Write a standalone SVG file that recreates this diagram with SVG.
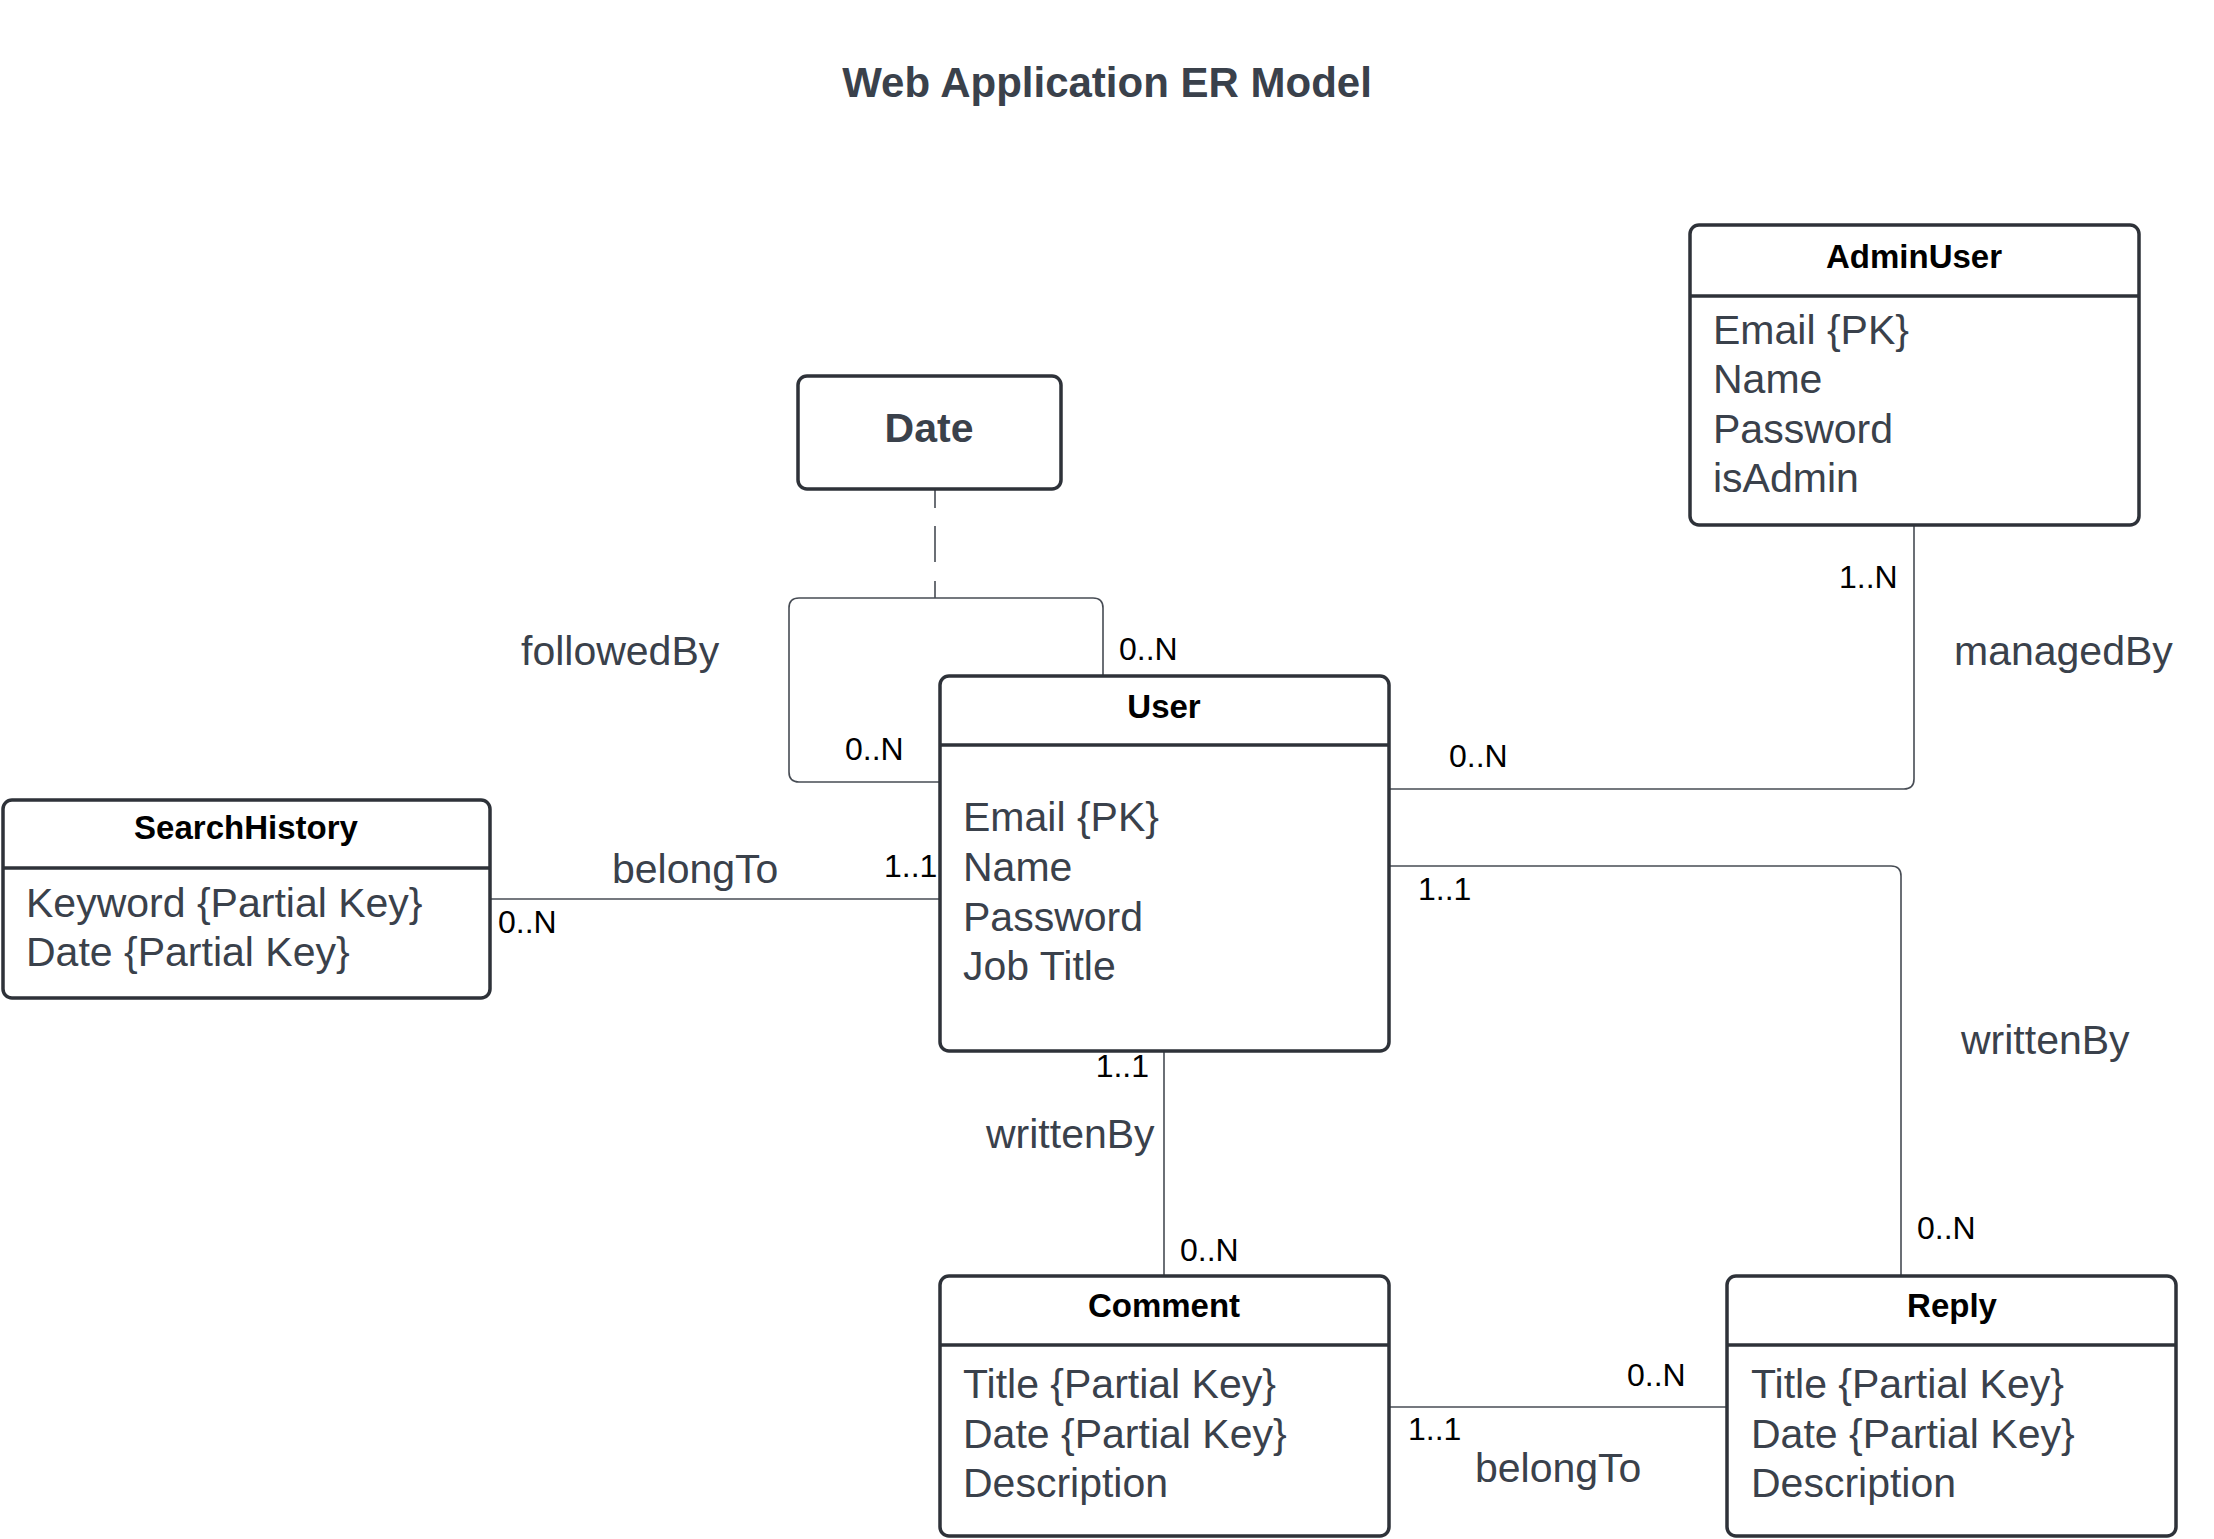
<svg xmlns="http://www.w3.org/2000/svg" width="2214" height="1539" viewBox="0 0 2214 1539">
<style>
text{font-family:"Liberation Sans",Arial,sans-serif}
.box{fill:#ffffff;stroke:#2e3239;stroke-width:3.5}
.div{stroke:#2e3239;stroke-width:3.5}
.ename{font-size:33px;font-weight:bold;fill:#000000;text-anchor:middle}
.attr{font-size:41px;fill:#3a414b}
.rel{font-size:41px;fill:#3a414b}
.card{font-size:32px;fill:#000000}
.conn{fill:none;stroke:#474c54;stroke-width:1.6}
</style>
<rect x="0" y="0" width="2214" height="1539" fill="#ffffff"/>
<text x="1107" y="97" text-anchor="middle" font-size="42" font-weight="bold" fill="#3a414b">Web Application ER Model</text>

<g id="connectors">
<path class="conn" d="M935,489 V598" stroke-dasharray="19 18 36 19 17 100"/>
<path class="conn" d="M940,782 H799 Q789,782 789,772 V608 Q789,598 799,598 H1093 Q1103,598 1103,608 V676"/>
<path class="conn" d="M1914,525 V779 Q1914,789 1904,789 H1389"/>
<path class="conn" d="M490,899 H940"/>
<path class="conn" d="M1164,1051 V1276"/>
<path class="conn" d="M1389,866 H1891 Q1901,866 1901,876 V1276"/>
<path class="conn" d="M1389,1407 H1727"/>
<text class="rel" x="521" y="665">followedBy</text>
<text class="rel" x="1954" y="665">managedBy</text>
<text class="rel" x="612" y="883">belongTo</text>
<text class="rel" x="986" y="1148">writtenBy</text>
<text class="rel" x="1961" y="1054">writtenBy</text>
<text class="rel" x="1475" y="1482">belongTo</text>
<text class="card" x="1119" y="660">0..N</text>
<text class="card" x="845" y="760">0..N</text>
<text class="card" x="1839" y="588">1..N</text>
<text class="card" x="1449" y="767">0..N</text>
<text class="card" x="884" y="877">1..1</text>
<text class="card" x="498" y="933">0..N</text>
<text class="card" x="1418" y="900">1..1</text>
<text class="card" x="1149" y="1077" text-anchor="end">1..1</text>
<text class="card" x="1180" y="1261">0..N</text>
<text class="card" x="1917" y="1239">0..N</text>
<text class="card" x="1627" y="1386">0..N</text>
<text class="card" x="1408" y="1440">1..1</text>
</g>

<g id="date">
<rect class="box" x="798" y="376" width="263" height="113" rx="9"/>
<text x="929" y="442" text-anchor="middle" font-size="41" font-weight="bold" fill="#3a414b">Date</text>
</g>

<g id="adminuser">
<rect class="box" x="1690" y="225" width="449" height="300" rx="9"/>
<line class="div" x1="1690" y1="296" x2="2139" y2="296"/>
<text class="ename" x="1914" y="268">AdminUser</text>
<text class="attr" x="1713" y="344">Email {PK}</text>
<text class="attr" x="1713" y="393">Name</text>
<text class="attr" x="1713" y="443">Password</text>
<text class="attr" x="1713" y="492">isAdmin</text>
</g>

<g id="user">
<rect class="box" x="940" y="676" width="449" height="375" rx="9"/>
<line class="div" x1="940" y1="745" x2="1389" y2="745"/>
<text class="ename" x="1164" y="718">User</text>
<text class="attr" x="963" y="831">Email {PK}</text>
<text class="attr" x="963" y="881">Name</text>
<text class="attr" x="963" y="931">Password</text>
<text class="attr" x="963" y="980">Job Title</text>
</g>

<g id="searchhistory">
<rect class="box" x="3" y="800" width="487" height="198" rx="9"/>
<line class="div" x1="3" y1="868" x2="490" y2="868"/>
<text class="ename" x="246" y="839">SearchHistory</text>
<text class="attr" x="26" y="917">Keyword {Partial Key}</text>
<text class="attr" x="26" y="966">Date {Partial Key}</text>
</g>

<g id="comment">
<rect class="box" x="940" y="1276" width="449" height="260" rx="9"/>
<line class="div" x1="940" y1="1345" x2="1389" y2="1345"/>
<text class="ename" x="1164" y="1317">Comment</text>
<text class="attr" x="963" y="1398">Title {Partial Key}</text>
<text class="attr" x="963" y="1448">Date {Partial Key}</text>
<text class="attr" x="963" y="1497">Description</text>
</g>

<g id="reply">
<rect class="box" x="1727" y="1276" width="449" height="260" rx="9"/>
<line class="div" x1="1727" y1="1345" x2="2176" y2="1345"/>
<text class="ename" x="1952" y="1317">Reply</text>
<text class="attr" x="1751" y="1398">Title {Partial Key}</text>
<text class="attr" x="1751" y="1448">Date {Partial Key}</text>
<text class="attr" x="1751" y="1497">Description</text>
</g>
</svg>
